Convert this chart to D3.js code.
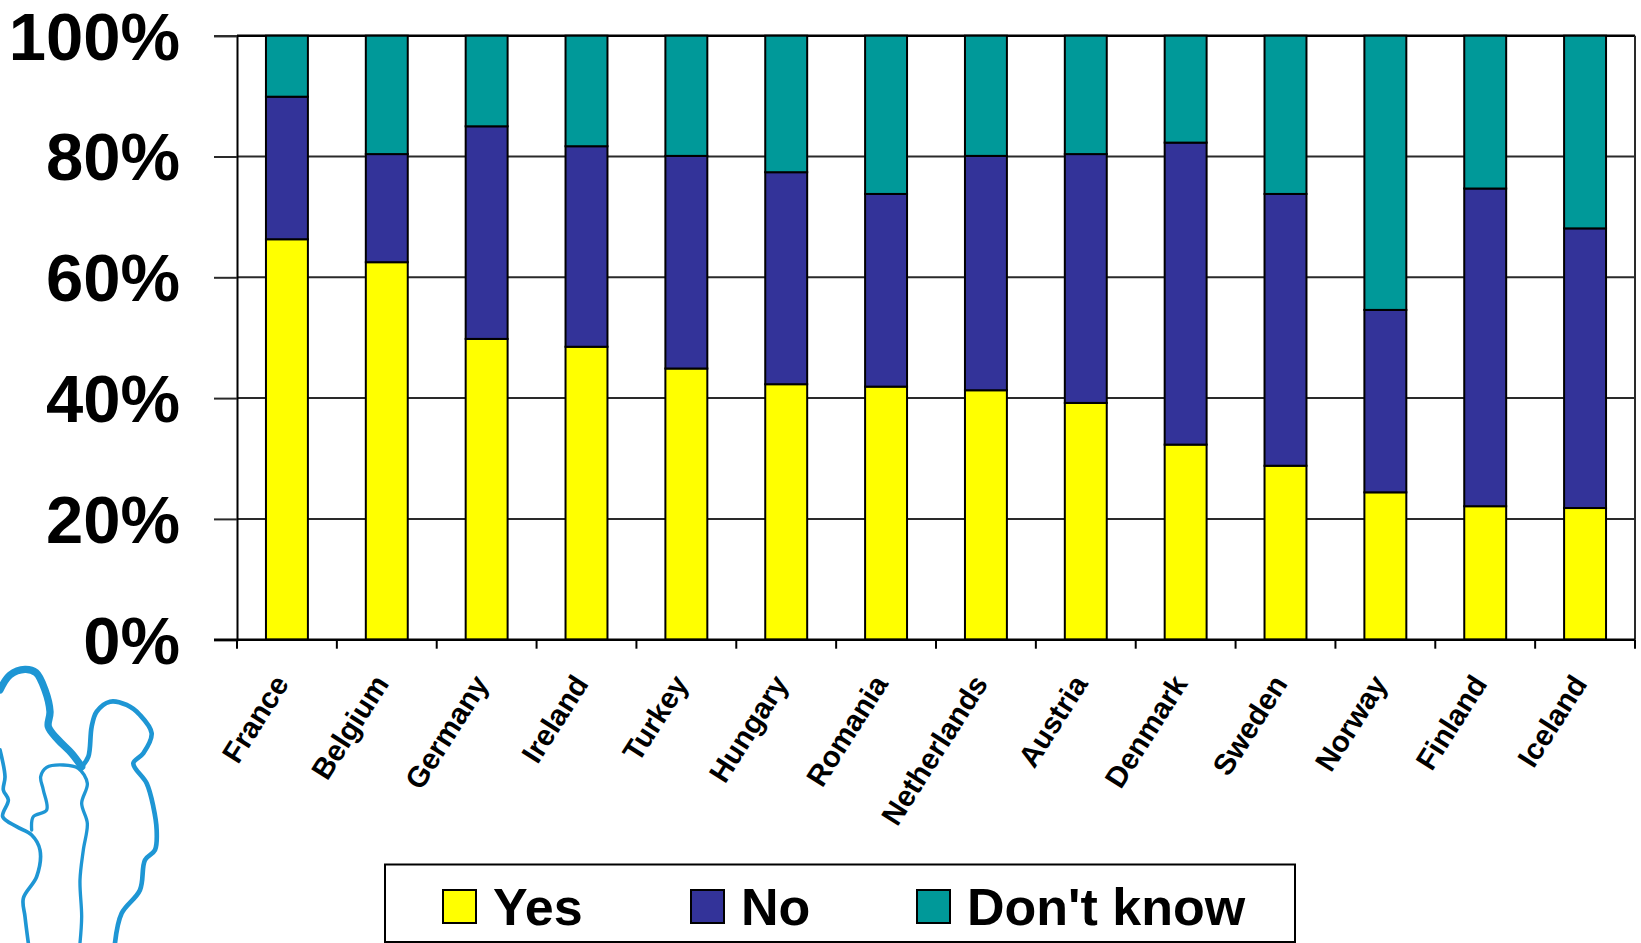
<!DOCTYPE html>
<html>
<head>
<meta charset="utf-8">
<script src="https://cdn.jsdelivr.net/npm/d3@7"></script>
<style>
  html, body { margin: 0; padding: 0; background: #fff; }
  svg { display: block; font-family: "Liberation Sans", Arial, sans-serif; }
</style>
</head>
<body>
<svg id="chart" width="1641" height="943"></svg>
<script>
// ---- data ----
const categories = ["France","Belgium","Germany","Ireland","Turkey","Hungary","Romania","Netherlands","Austria","Denmark","Sweden","Norway","Finland","Iceland"];
const yesValues = [66.3, 62.5, 49.8, 48.5, 44.9, 42.3, 41.9, 41.3, 39.2, 32.3, 28.8, 24.4, 22.1, 21.8];
const noValues  = [23.6, 17.9, 35.2, 33.2, 35.2, 35.1, 31.9, 38.8, 41.2, 50.0, 45.0, 30.2, 52.6, 46.3];
const dkValues  = [10.1, 19.6, 15.0, 18.3, 19.9, 22.6, 26.2, 19.9, 19.6, 17.7, 26.2, 45.4, 25.3, 31.9];
const seriesNames = ["Yes", "No", "Don't know"];
const seriesColors = ["#FFFF00", "#333399", "#009999"];
const yTickValues = [0, 0.2, 0.4, 0.6, 0.8, 1.0];

(function () {
// ---- layout ----
const svg = d3.select("#chart");
const mLeft = 237, mRight = 1635, mTop = 35.7, mBottom = 639.7;

const rows = categories.map((c, i) => ({
  cat: c,
  "Yes": yesValues[i],
  "No": noValues[i],
  "Don't know": dkValues[i]
}));
const stack = d3.stack().keys(seriesNames).offset(d3.stackOffsetExpand);
const stacked = stack(rows);

const xSlot = d3.scaleBand().domain(categories).range([mLeft, mRight]).padding(0);
const x = d3.scaleBand().domain(categories).range([mLeft, mRight]).paddingInner(0.58).paddingOuter(0.29);
const y = d3.scaleLinear().domain([0, 1]).range([mBottom, mTop]);
const color = d3.scaleOrdinal().domain(seriesNames).range(seriesColors);

// gridlines
svg.append("g").selectAll("line")
  .data(yTickValues.filter(v => v > 0 && v < 1))
  .join("line")
  .attr("x1", mLeft).attr("x2", mRight)
  .attr("y1", d => y(d)).attr("y2", d => y(d))
  .attr("stroke", "#2a2a2a").attr("stroke-width", 2);

// plot frame top / right
svg.append("line").attr("x1", mLeft).attr("x2", mRight).attr("y1", y(1)).attr("y2", y(1))
  .attr("stroke", "#000").attr("stroke-width", 2.5);
svg.append("line").attr("x1", mRight).attr("x2", mRight).attr("y1", y(1)).attr("y2", y(0))
  .attr("stroke", "#2a2a2a").attr("stroke-width", 2);

// bars
svg.append("g").selectAll("g")
  .data(stacked)
  .join("g")
  .attr("fill", d => color(d.key))
  .selectAll("rect")
  .data(d => d)
  .join("rect")
  .attr("x", d => x(d.data.cat))
  .attr("width", x.bandwidth())
  .attr("y", d => y(d[1]))
  .attr("height", d => y(d[0]) - y(d[1]))
  .attr("stroke", "#000")
  .attr("stroke-width", 2);

// y axis
const yAxis = d3.axisLeft(y).tickValues(yTickValues).tickFormat(d3.format(".0%")).tickSize(23).tickPadding(34);
const gy = svg.append("g").attr("transform", `translate(${mLeft},0)`).call(yAxis);
gy.select(".domain").attr("stroke", "#000").attr("stroke-width", 2);
gy.selectAll(".tick line").attr("stroke", "#2a2a2a").attr("stroke-width", 2);
gy.selectAll(".tick text")
  .attr("font-family", "'Liberation Sans', Arial, sans-serif")
  .attr("font-weight", "bold")
  .attr("font-size", 67)
  .attr("fill", "#000")
  .attr("dy", "0.35em");

// x axis line
svg.append("line").attr("x1", mLeft - 23).attr("x2", mRight).attr("y1", mBottom).attr("y2", mBottom)
  .attr("stroke", "#000").attr("stroke-width", 2.5);

// x ticks at category boundaries
const boundaries = categories.map(c => xSlot(c)).concat([mRight]);
svg.append("g").selectAll("line")
  .data(boundaries)
  .join("line")
  .attr("x1", d => d).attr("x2", d => d)
  .attr("y1", mBottom).attr("y2", mBottom + 9)
  .attr("stroke", "#000").attr("stroke-width", 2);

// x labels
svg.append("g").selectAll("text")
  .data(categories)
  .join("text")
  .attr("transform", d => `translate(${xSlot(d) + xSlot.bandwidth() / 2 + 3},${mBottom + 44}) rotate(-57.5)`)
  .attr("text-anchor", "end")
  .attr("font-family", "'Liberation Sans', Arial, sans-serif")
  .attr("font-weight", "bold")
  .attr("font-size", 29.5)
  .attr("fill", "#000")
  .text(d => d);

// legend
const legend = svg.append("g");
legend.append("rect").attr("x", 385).attr("y", 864.5).attr("width", 910).attr("height", 77.5)
  .attr("fill", "#fff").attr("stroke", "#000").attr("stroke-width", 2);
const legendSwatchX = [443, 691, 917];
const legendItems = legend.selectAll("g.item").data(seriesNames).join("g").attr("class", "item")
  .attr("transform", (d, i) => `translate(${legendSwatchX[i]},890)`);
legendItems.append("rect").attr("width", 33).attr("height", 33)
  .attr("fill", d => color(d)).attr("stroke", "#000").attr("stroke-width", 2);
legendItems.append("text").attr("x", 50).attr("y", 35)
  .attr("font-family", "'Liberation Sans', Arial, sans-serif")
  .attr("font-weight", "bold").attr("font-size", 52).attr("fill", "#000")
  .text(d => d);

// decorative logo (silhouettes)
const logo = svg.append("g").attr("fill", "none").attr("stroke", "#1E96D4")
  .attr("stroke-linejoin", "round").attr("stroke-linecap", "round")
  .attr("transform", "translate(0,650) scale(0.3333)");
const line = d3.line().curve(d3.curveCatmullRom);
const leftAdult = [[0,120],[30,75],[75,58],[108,68],[135,120],[150,185],[145,230],[175,270],[215,310],[245,350]];
const leftAdultBody = [[0,300],[15,380],[10,420],[25,450],[8,500],[50,530],[95,555],[120,600],[110,680],[70,745],[75,800],[85,879]];
const rightAdult = [[245,350],[265,320],[275,230],[290,185],[330,155],[380,165],[420,195],[455,250],[430,310],[400,340],[440,400],[460,470],[470,540],[465,600],[435,630],[420,720],[365,790],[345,879]];
const child = [[95,540],[100,500],[140,480],[130,420],[122,380],[140,352],[190,345],[235,355],[262,400],[245,460],[262,520],[250,600],[240,690],[245,800],[240,879]];
logo.append("path").attr("d", line(leftAdult)).attr("stroke-width", 22);
logo.append("path").attr("d", line(leftAdultBody)).attr("stroke-width", 11);
logo.append("path").attr("d", line(rightAdult)).attr("stroke-width", 14);
logo.append("path").attr("d", line(child)).attr("stroke-width", 10);
})();
</script>
</body>
</html>
